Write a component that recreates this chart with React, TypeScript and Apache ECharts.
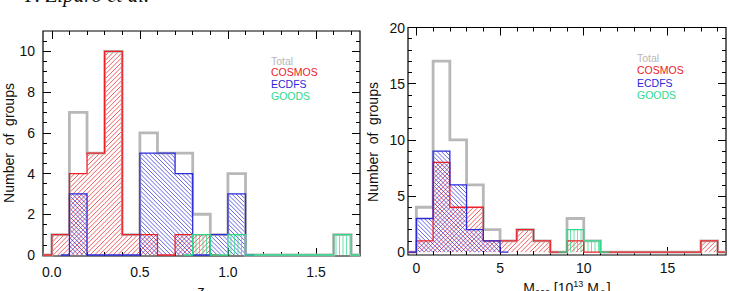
import React, { useEffect, useRef } from 'react';
import * as echarts from 'echarts';

// ---------- data: redshift histogram (bin width 0.1) ----------
const zBinWidth = 0.1;
const zTotal = [1, 7, 5, 10, 1, 6, 5, 5, 2, 1, 4, 0, 0, 0, 0, 0, 1]; // bins from 0.0
const zCosmos = [1, 4, 5, 10, 1, 1, 0, 1, 1]; // bins from 0.0
const zEcdfs = [3, 0, 0, 0, 5, 5, 4, 0, 1, 3]; // bins from 0.1
const zGoods = [1, 0, 1, 0, 0, 0, 0, 0, 1]; // bins from 0.8
const zStarts = { total: 0.0, cosmos: 0.0, ecdfs: 0.1, goods: 0.8 };

// ---------- data: mass histogram (bin width 1) ----------
const mBinWidth = 1;
const mTotal = [4, 17, 10, 6, 2, 1, 2, 1, 0, 3, 1, 0, 0, 0, 0, 0, 0, 1]; // from 0
const mCosmos = [1, 8, 4, 4, 1, 1, 2, 1, 0, 1, 0, 0, 0, 0, 0, 0, 0, 1]; // from 0
const mEcdfs = [3, 9, 6, 2, 1]; // from 0
const mGoods = [2, 1]; // from 9
const mStarts = { total: 0, cosmos: 0, ecdfs: 0, goods: 9 };

// ---------- ticks ----------
const zMajor = [0, 0.5, 1.0, 1.5];
const zMinor = [0.1, 0.2, 0.3, 0.4, 0.6, 0.7, 0.8, 0.9, 1.1, 1.2, 1.3, 1.4, 1.6, 1.7];
const nLeftMajor = [0, 2, 4, 6, 8, 10];
const nLeftMinor = [0.5, 1, 1.5, 2.5, 3, 3.5, 4.5, 5, 5.5, 6.5, 7, 7.5, 8.5, 9, 9.5, 10.5];
const mMajor = [0, 5, 10, 15];
const mMinor = [1, 2, 3, 4, 6, 7, 8, 9, 11, 12, 13, 14, 16, 17, 18];
const nRightMajor = [0, 5, 10, 15, 20];
const nRightMinor = [1, 2, 3, 4, 6, 7, 8, 9, 11, 12, 13, 14, 16, 17, 18, 19];

const legendNames = ['Total', 'COSMOS', 'ECDFS', 'GOODS'];

// ---------- styles ----------
const GREY = '#b8b8b8';
const RED = '#ec2027';
const BLUE = '#2a2ad8';
const GREEN = '#2fd98a';
const FONT = 'Liberation Sans';

const round = (v: number) => Math.round(v * 1000) / 1000;

function bins(values: number[], start: number, w: number) {
  return values.map((v, i) => [round(start + i * w), round(start + (i + 1) * w), v]);
}

function stepLine(values: number[], start: number, w: number, pad: number) {
  const pts: number[][] = [];
  const e0 = round(start);
  pts.push([round(e0 - pad), 0]);
  pts.push([e0, 0]);
  values.forEach((v, i) => {
    pts.push([round(start + i * w), v]);
    pts.push([round(start + (i + 1) * w), v]);
  });
  const en = round(start + values.length * w);
  pts.push([en, 0]);
  pts.push([round(en + pad), 0]);
  return pts;
}

function hatch(l: number, r: number, t: number, b: number, kind: string, s: number, color: string) {
  const out: any[] = [];
  const mk = (x1: number, y1: number, x2: number, y2: number) => ({
    type: 'line',
    shape: { x1, y1, x2, y2 },
    style: { stroke: color, lineWidth: 0.8, opacity: 0.9 },
    silent: true,
  });
  if (kind === 'vert') {
    for (let c = Math.ceil(l / s) * s; c <= r; c += s) out.push(mk(c, t, c, b));
  } else if (kind === 'fwd') {
    for (let c = Math.ceil((l + t) / s) * s; c <= r + b; c += s) {
      const xa = Math.max(l, c - b);
      const xb = Math.min(r, c - t);
      if (xb > xa) out.push(mk(xa, c - xa, xb, c - xb));
    }
  } else {
    for (let c = Math.ceil((t - r) / s) * s; c <= b - l; c += s) {
      const xa = Math.max(l, t - c);
      const xb = Math.min(r, b - c);
      if (xb > xa) out.push(mk(xa, xa + c, xb, xb + c));
    }
  }
  return out;
}

function hatchSeries(data: number[][], xi: number, yi: number, kind: string, s: number, color: string) {
  return {
    type: 'custom',
    xAxisIndex: xi,
    yAxisIndex: yi,
    clip: true,
    silent: true,
    encode: { x: [0, 1], y: 2 },
    data,
    renderItem: (params: any, api: any) => {
      const v = api.value(2);
      if (!(v > 0)) return { type: 'group', children: [] };
      const p0 = api.coord([api.value(0), 0]);
      const p1 = api.coord([api.value(1), v]);
      return {
        type: 'group',
        children: hatch(p0[0], p1[0], p1[1], p0[1], kind, s, color),
      };
    },
  };
}

function lineSeries(data: number[][], xi: number, yi: number, color: string, width: number) {
  return {
    type: 'line',
    xAxisIndex: xi,
    yAxisIndex: yi,
    data,
    symbol: 'none',
    silent: true,
    clip: true,
    lineStyle: { color, width, join: 'miter', cap: 'butt' },
  };
}

function xAxes(grid: number, min: number, max: number, major: number[], minor: number[], fmt: (v: number) => string, margin: number) {
  const base = {
    type: 'value',
    gridIndex: grid,
    min,
    max,
    axisLine: { show: false, onZero: false },
    splitLine: { show: false },
  };
  const tick = (vals: number[], len: number) => ({
    show: true,
    inside: true,
    length: len,
    customValues: vals,
    lineStyle: { color: '#000', width: 1 },
  });
  return [
    {
      ...base,
      position: 'bottom',
      axisTick: tick(major, 8),
      axisLabel: { show: true, customValues: major, formatter: fmt, margin, fontSize: 14, color: '#111', fontFamily: FONT },
    },
    { ...base, position: 'bottom', axisTick: tick(minor, 4), axisLabel: { show: false } },
    { ...base, position: 'top', axisTick: tick(major, 8), axisLabel: { show: false } },
    { ...base, position: 'top', axisTick: tick(minor, 4), axisLabel: { show: false } },
  ];
}

function yAxes(grid: number, min: number, max: number, major: number[], minor: number[], margin: number) {
  const base = {
    type: 'value',
    gridIndex: grid,
    min,
    max,
    axisLine: { show: false, onZero: false },
    splitLine: { show: false },
  };
  const tick = (vals: number[], len: number) => ({
    show: true,
    inside: true,
    length: len,
    customValues: vals,
    lineStyle: { color: '#000', width: 1 },
  });
  return [
    {
      ...base,
      position: 'left',
      axisTick: tick(major, 8),
      axisLabel: { show: true, customValues: major, margin, fontSize: 14, color: '#111', fontFamily: FONT },
    },
    { ...base, position: 'left', axisTick: tick(minor, 4), axisLabel: { show: false } },
    { ...base, position: 'right', axisTick: tick(major, 8), axisLabel: { show: false } },
    { ...base, position: 'right', axisTick: tick(minor, 4), axisLabel: { show: false } },
  ];
}

function legend(x: number, y0: number, dy: number) {
  const colors = [GREY, RED, BLUE, GREEN];
  return legendNames.map((name, i) => ({
    type: 'text',
    x,
    y: y0 + i * dy,
    silent: true,
    style: { text: name, fill: colors[i], font: `10.5px "${FONT}"`, verticalAlign: 'middle' },
  }));
}

function buildOption() {
  const L = 0;
  const R = 4;
  const series: any[] = [
    // left panel
    lineSeries(stepLine(zTotal, zStarts.total, zBinWidth, 0.05), L, L, GREY, 2.8),
    hatchSeries(bins(zCosmos, zStarts.cosmos, zBinWidth), L, L, 'fwd', 4.6, RED),
    lineSeries(stepLine(zCosmos, zStarts.cosmos, zBinWidth, 0.05), L, L, RED, 1.3),
    hatchSeries(bins(zEcdfs, zStarts.ecdfs, zBinWidth), L, L, 'back', 4.2, BLUE),
    lineSeries(stepLine(zEcdfs, zStarts.ecdfs, zBinWidth, 0.05), L, L, BLUE, 1.3),
    hatchSeries(bins(zGoods, zStarts.goods, zBinWidth), L, L, 'vert', 3.5, GREEN),
    lineSeries(stepLine(zGoods, zStarts.goods, zBinWidth, 0.05), L, L, GREEN, 1.3),
    // right panel
    lineSeries(stepLine(mTotal, mStarts.total, mBinWidth, 0.5), R, R, GREY, 2.8),
    hatchSeries(bins(mCosmos, mStarts.cosmos, mBinWidth), R, R, 'fwd', 4.6, RED),
    lineSeries(stepLine(mCosmos, mStarts.cosmos, mBinWidth, 0.5), R, R, RED, 1.3),
    hatchSeries(bins(mEcdfs, mStarts.ecdfs, mBinWidth), R, R, 'back', 4.2, BLUE),
    lineSeries(stepLine(mEcdfs, mStarts.ecdfs, mBinWidth, 0.5), R, R, BLUE, 1.3),
    hatchSeries(bins(mGoods, mStarts.goods, mBinWidth), R, R, 'vert', 3.5, GREEN),
    lineSeries(stepLine(mGoods, mStarts.goods, mBinWidth, 0.5), R, R, GREEN, 1.3),
  ];

  return {
    animation: false,
    backgroundColor: '#fff',
    grid: [
      { left: 43, top: 31, width: 317, height: 225, show: true, borderColor: '#000', borderWidth: 1.2, backgroundColor: 'transparent' },
      { left: 408, top: 27.5, width: 318, height: 227.5, show: true, borderColor: '#000', borderWidth: 1.2, backgroundColor: 'transparent' },
    ],
    xAxis: [
      ...xAxes(0, -0.05, 1.75, zMajor, zMinor, (v: number) => v.toFixed(1), 9),
      ...xAxes(1, -0.5, 18.5, mMajor, mMinor, (v: number) => String(v), 6),
    ],
    yAxis: [
      ...yAxes(0, -0.05, 11, nLeftMajor, nLeftMinor, 8),
      ...yAxes(1, -0.25, 20, nRightMajor, nRightMinor, 3),
    ],
    series,
    graphic: [
      {
        type: 'text',
        x: 25,
        y: 5,
        silent: true,
        style: { text: 'F. Ziparo et al.', fill: '#111', font: 'italic 21px "Liberation Serif"', verticalAlign: 'bottom' },
      },
      {
        type: 'text',
        x: 9,
        y: 143,
        rotation: Math.PI / 2,
        silent: true,
        style: { text: 'Number  of  groups', fill: '#111', font: `14px "${FONT}"`, align: 'center', verticalAlign: 'middle' },
      },
      {
        type: 'text',
        x: 373,
        y: 142,
        rotation: Math.PI / 2,
        silent: true,
        style: { text: 'Number  of  groups', fill: '#111', font: `14px "${FONT}"`, align: 'center', verticalAlign: 'middle' },
      },
      {
        type: 'text',
        x: 201,
        y: 283,
        silent: true,
        style: { text: 'z', fill: '#111', font: `15px "${FONT}"`, align: 'center', verticalAlign: 'top' },
      },
      {
        type: 'text',
        x: 567,
        y: 279,
        silent: true,
        style: {
          text: '{a|M}{s|200}{a| [10}{p|13}{a| M}{s|⊙}{a|]}',
          align: 'center',
          verticalAlign: 'top',
          fill: '#111',
          rich: {
            a: { fontSize: 14, fontFamily: FONT, lineHeight: 18, fill: '#111' },
            s: { fontSize: 9, fontFamily: FONT, lineHeight: 9, verticalAlign: 'bottom', fill: '#111' },
            p: { fontSize: 9, fontFamily: FONT, lineHeight: 9, verticalAlign: 'top', fill: '#111' },
          },
        },
      },
      ...legend(271, 60.5, 11.9),
      ...legend(637, 57.7, 12.4),
    ],
  };
}

export default function App() {
  const ref = useRef<HTMLDivElement>(null);
  useEffect(() => {
    if (!ref.current) return;
    const chart = echarts.init(ref.current, null, { renderer: 'svg' });
    chart.setOption(buildOption() as any);
    return () => chart.dispose();
  }, []);
  return (
    <div
      ref={ref}
      style={{ position: 'absolute', left: 0, top: 0, width: 729, height: 291, background: '#fff' }}
    />
  );
}
